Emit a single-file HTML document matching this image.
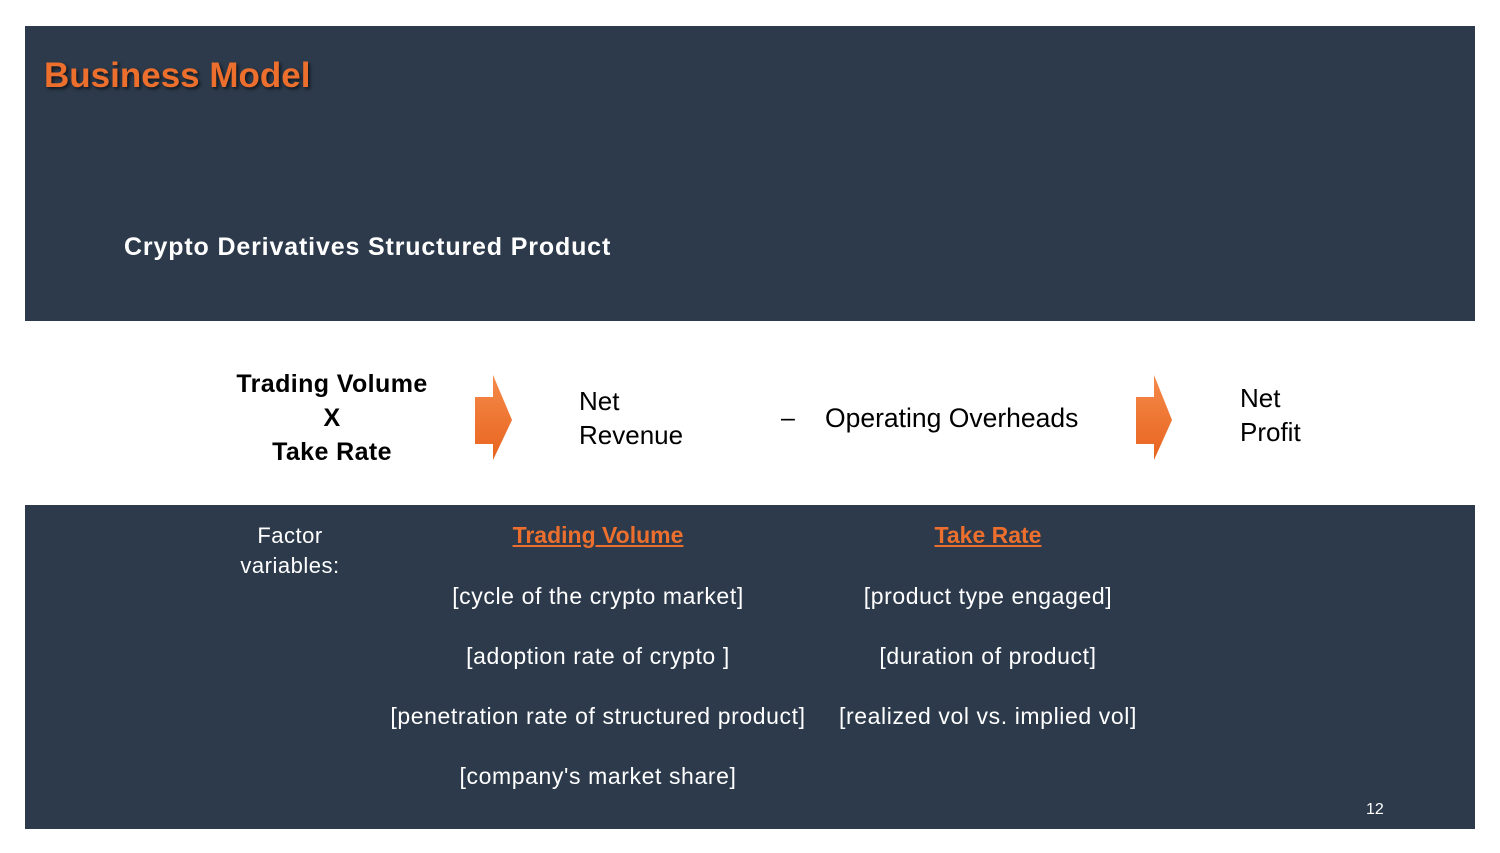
<!DOCTYPE html>
<html><head><meta charset="utf-8"><style>
body{margin:0;width:1500px;height:853px;background:#fff;position:relative;overflow:hidden;font-family:"Liberation Sans",sans-serif}
.p{position:absolute;background:#2c3a4b}
.t{position:absolute;white-space:nowrap}
.w{color:#fff}
.c{text-align:center}
</style></head><body>
<div class="p" style="left:25px;top:26px;width:1450px;height:295px"></div>
<div class="p" style="left:25px;top:505px;width:1450px;height:324px"></div>
<div class="t" style="left:44px;top:56px;font-size:35px;font-weight:bold;color:#ec6f2d;text-shadow:2px 2px 3px rgba(0,0,0,.6)">Business Model</div>
<div class="t w" style="left:124px;top:233px;font-size:25px;font-weight:bold;letter-spacing:0.85px">Crypto Derivatives Structured Product</div>
<div class="t c" style="left:212px;top:367px;width:240px;font-size:25px;font-weight:bold;line-height:34px;color:#000;letter-spacing:0.4px">Trading Volume<br>X<br>Take Rate</div>
<svg style="position:absolute;left:0;top:0" width="1500" height="853">
<defs><linearGradient id="g" x1="0" y1="0" x2="0" y2="1"><stop offset="0" stop-color="#f58a4a"/><stop offset="1" stop-color="#e8641f"/></linearGradient></defs>
<polygon points="475,397 493,397 493,375 512,420 493,460 493,444 475,444" fill="url(#g)"/>
<polygon points="1136,397 1154,397 1154,375 1172,420 1154,460 1154,444 1136,444" fill="url(#g)"/>
</svg>
<div class="t" style="left:579px;top:384px;font-size:26px;line-height:34px;color:#000">Net<br>Revenue</div>
<div class="t" style="left:781px;top:404px;font-size:25px;color:#000">–</div>
<div class="t" style="left:825px;top:403px;font-size:26.5px;color:#000">Operating Overheads</div>
<div class="t" style="left:1240px;top:381px;font-size:26px;line-height:34px;color:#000">Net<br>Profit</div>
<div class="t w c" style="left:210px;top:521px;width:160px;font-size:22px;line-height:30px;letter-spacing:0.5px">Factor<br>variables:</div>
<div class="t c" style="left:398px;top:522px;width:400px;font-size:23px;font-weight:bold;color:#ec6f2d;text-decoration:underline">Trading Volume</div>
<div class="t c" style="left:838px;top:522px;width:300px;font-size:23px;font-weight:bold;color:#ec6f2d;text-decoration:underline">Take Rate</div>
<div class="t w c" style="left:358px;top:566px;width:480px;font-size:23px;letter-spacing:0.6px;line-height:60px">[cycle of the crypto market]<br>[adoption rate of crypto ]<br>[penetration rate of structured product]<br>[company's market share]</div>
<div class="t w c" style="left:808px;top:566px;width:360px;font-size:23px;letter-spacing:0.6px;line-height:60px">[product type engaged]<br>[duration of product]<br>[realized vol vs. implied vol]</div>
<div class="t w" style="left:1366px;top:801px;font-size:16px">12</div>
</body></html>
